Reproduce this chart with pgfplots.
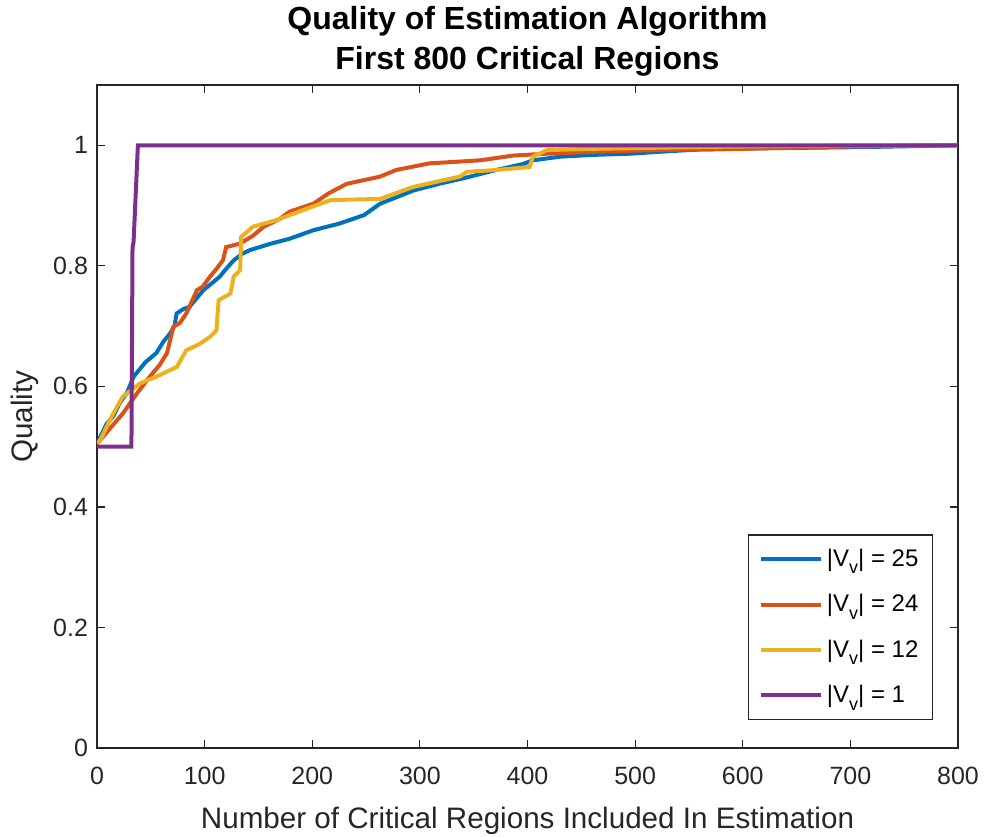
\documentclass[border=0pt]{standalone}
\usepackage{fontspec}
\setmainfont{Liberation Sans}
\usepackage{pgfplots}
\pgfplotsset{compat=1.18}
\definecolor{mblue}{rgb}{0,0.447,0.741}
\definecolor{mred}{rgb}{0.85,0.325,0.098}
\definecolor{myellow}{rgb}{0.929,0.694,0.125}
\definecolor{mpurple}{rgb}{0.494,0.184,0.556}
\definecolor{axgray}{rgb}{0.15,0.15,0.15}
\newcommand{\vv}[1]{|V\raisebox{-0.6ex}{\fontsize{9}{9}\selectfont v}| = #1}
\begin{document}
\begin{tikzpicture}
\begin{axis}[
  scale only axis,
  width=430.5pt, height=331.5pt,
  xmin=0, xmax=800, ymin=0, ymax=1.1,
  xtick={0,100,...,800},
  ytick={0,0.2,0.4,0.6,0.8,1},
  yticklabels={0,0.2,0.4,0.6,0.8,1},
  /pgf/number format/assume math mode=true,
  tick label style={font=\fontsize{12.5}{14}\selectfont, color=axgray},
  xticklabel style={yshift=-6pt},
  yticklabel style={xshift=-1pt},
  axis line style={axgray, line width=0.6pt},
  major tick style={axgray, line width=0.6pt},
  major tick length=4pt,
  tick align=inside,
  xlabel={Number of Critical Regions Included In Estimation},
  ylabel={Quality},
  label style={font=\fontsize{14.8}{17}\selectfont, color=axgray},
  xlabel style={at={(axis description cs:0.5,-0.11)}, anchor=center},
  ylabel style={at={(axis description cs:-0.0836,0.5)}, anchor=center},
  title={Quality of Estimation Algorithm\\First 800 Critical Regions},
  title style={font=\bfseries\fontsize{16}{20}\selectfont, align=center, at={(axis description cs:0.5,1.048)}, anchor=center},
  legend style={at={(0.971,0.042)}, anchor=south east, draw=axgray, line width=0.6pt,
    font=\fontsize{12}{14}\selectfont, row sep=8.5pt, inner sep=5pt},
  legend cell align=left,
  legend image code/.code={\draw[#1, line width=2pt] (0pt,0pt) -- (30pt,0pt);},
  every axis plot/.append style={line width=2pt},
]
\addplot[mblue] coordinates {
(0,0.505)(3,0.516)(9,0.538)(15,0.55)(21,0.572)(28,0.59)(34,0.616)(45,0.64)(55,0.655)(62,0.675)(68,0.688)(72,0.70)(74,0.721)(80,0.728)(86,0.732)(92,0.745)(99,0.760)(106,0.77)(114,0.782)(120,0.795)(127,0.809)(135,0.82)(142,0.826)(160,0.836)(179,0.845)(201,0.859)(225,0.87)(248,0.884)(263,0.903)(280,0.915)(294,0.925)(320,0.937)(340,0.945)(371,0.959)(396,0.969)(405,0.975)(430,0.981)(460,0.984)(495,0.986)(530,0.99)(560,0.993)(620,0.995)(712,0.997)(800,1.0)
};
\addlegendentry{\vv{25}}
\addplot[mred] coordinates {
(0,0.505)(3,0.511)(12,0.53)(24,0.555)(37,0.588)(49,0.616)(58,0.635)(65,0.655)(71,0.699)(77,0.705)(83,0.721)(93,0.760)(98,0.765)(105,0.782)(111,0.795)(117,0.809)(120,0.831)(133,0.837)(145,0.85)(155,0.865)(170,0.878)(179,0.89)(201,0.903)(215,0.92)(232,0.936)(263,0.948)(278,0.959)(309,0.970)(356,0.975)(387,0.983)(418,0.986)(460,0.989)(520,0.992)(597,0.994)(700,0.998)(800,1.0)
};
\addlegendentry{\vv{24}}
\addplot[myellow] coordinates {
(0,0.505)(3,0.511)(15,0.555)(24,0.583)(40,0.605)(55,0.616)(74,0.632)(83,0.660)(95,0.67)(105,0.682)(111,0.693)(113,0.743)(124,0.754)(127,0.782)(133,0.793)(134,0.848)(145,0.865)(167,0.876)(179,0.884)(200,0.898)(217,0.909)(263,0.911)(294,0.931)(337,0.948)(344,0.956)(371,0.959)(402,0.964)(405,0.981)(418,0.992)(458,0.994)(555,0.997)(650,0.999)(800,1.0)
};
\addlegendentry{\vv{12}}
\addplot[mpurple] coordinates {
(0,0.5)(32,0.5)(33,0.83)(34,0.84)(38,1)(800,1)
};
\addlegendentry{\vv{1}}
\end{axis}
\pgfresetboundingbox
\path[use as bounding box] ([shift={(-48.5pt,-44pt)}]current axis.south west) rectangle ([shift={(13pt,42.5pt)}]current axis.north east);
\end{tikzpicture}
\end{document}
